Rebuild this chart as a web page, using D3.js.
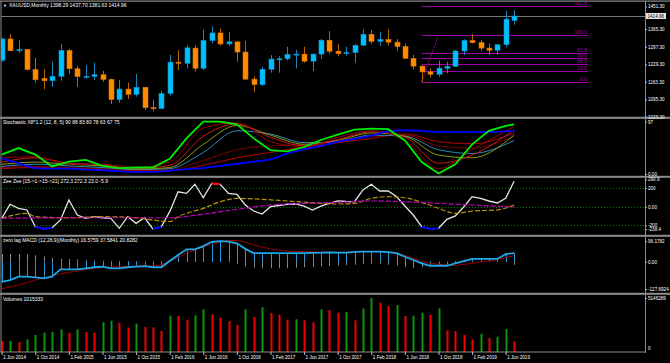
<!DOCTYPE html>
<html>
<head>
<meta charset="utf-8">
<script src="https://cdn.jsdelivr.net/npm/d3@7"></script>
<style>
  html, body { margin: 0; padding: 0; background: #000; }
  svg { display: block; }
  text { font-family: "Liberation Sans", Arial, sans-serif; font-size: 5px; fill: #fff; }
</style>
</head>
<body>
<div id="chart"></div>
<script>

  /* -----------------------
      DATA (monthly bars, Jun 2014 .. Jul 2019)
   -------------------------- */

  //-- TIME AXIS
  var timeTickBars = [0, 4, 8, 12, 16, 20, 24, 28, 32, 36, 40, 44, 48, 52, 56, 60];
  var timeLabels = ['1 Jun 2014', '1 Oct 2014', '1 Feb 2015', '1 Jun 2015', '1 Oct 2015', '1 Feb 2016',
    '1 Jun 2016', '1 Oct 2016', '1 Feb 2017', '1 Jun 2017', '1 Oct 2017', '1 Feb 2018',
    '1 Jun 2018', '1 Oct 2018', '1 Feb 2019', '1 Jun 2019'];

  //-- XAUUSD OHLC
  var opens = [1246,1327,1282,1287,1210,1175,1167,1184,1283,1213,1183,1184,1190,1172,1095,1135,1115,1142,1064,1061,
    1118,1238,1234,1292,1215,1321,1350,1308,1316,1277,1173,1152,1211,1250,1251,1268,1269,1242,1269,1322,
    1280,1271,1275,1303,1345,1318,1325,1315,1298,1253,1223,1201,1192,1215,1222,1281,1321,1313,1292,1284,
    1305,1398.29];
  var highs = [1332,1345,1322,1288,1255,1211,1240,1308,1290,1224,1227,1236,1205,1175,1170,1160,1193,1142,1093,1128,
    1266,1284,1304,1303,1362,1375,1367,1353,1318,1320,1184,1220,1265,1261,1297,1285,1297,1270,1327,1357,
    1306,1297,1307,1364,1361,1355,1364,1326,1309,1266,1225,1214,1244,1240,1284,1326,1346,1324,1310,1306,
    1435,1437.70];
  var lows = [1240,1281,1273,1206,1160,1134,1144,1167,1193,1144,1174,1170,1163,1078,1083,1097,1106,1055,1050,1061,
    1110,1208,1214,1202,1208,1310,1301,1301,1240,1171,1125,1146,1198,1198,1245,1214,1236,1204,1250,1271,
    1260,1264,1236,1302,1307,1301,1302,1282,1250,1211,1163,1180,1183,1196,1221,1265,1310,1281,1265,1266,
    1295,1381.63];
  var closes = [1327,1282,1287,1210,1171,1167,1184,1283,1213,1183,1184,1190,1172,1095,1135,1115,1142,1064,1061,1118,
    1238,1234,1293,1215,1321,1350,1308,1316,1277,1173,1152,1211,1250,1251,1268,1269,1242,1269,1322,1280,
    1271,1275,1303,1345,1318,1325,1315,1298,1253,1223,1201,1192,1215,1222,1281,1321,1313,1292,1284,1305,
    1403,1414.96];

  var priceLabels = [1451.30, 1365.30, 1297.30, 1229.30, 1163.30, 1095.30, 1029.30];
  var bidPrice = 1414.96;

  //-- FIBO (anchor bars and prices)
  var fibLevels = [0, 23.6, 38.2, 50.0, 61.8, 100.0, 161.8];
  var fibLowBar = 50, fibLowPrice = 1163.3;
  var fibHighBar = 52, fibHighPrice = 1342.0;
  var fibEndBar = 69.8;

  //-- STOCHASTIC X8
  var stochBars = [0,2,4,6,8,10,12,14,16,18,20,22,24,26,28,30,32,34,36,38,40,42,44,46,48,50,52,54,56,58,60,61];
  var stochGreen = [36,48,36,14,23,26,15,11,12,12,28,66,97,97,92,66,44,42,50,63,73,82,84,83,62,22,1,18,55,80,89,92];
  var stochBlue = [29,20,11,10,10,8,7,5,4,4,6,9,11,15,19,23,27,38,46,52,60,65,71,79,81,80,78,78,78,78,79,80];
  var stochThinBars = [0,4,8,12,16,20,24,28,32,36,40,44,48,52,56,61];
  var stochRed1 = [30,32,18,18,12,22,85,95,60,50,68,80,62,10,45,88];
  var stochRed2 = [22,30,20,17,10,16,70,93,68,52,64,78,68,20,35,82];
  var stochOlive = [18,22,18,15,9,12,55,90,72,55,62,76,70,35,30,72];
  var stochTeal = [14,18,15,12,8,10,40,80,74,58,60,72,70,45,38,62];
  var stochRed3 = [12,14,12,10,7,8,25,45,52,55,62,70,72,52,48,70];
  var stochRed4 = [10,12,10,9,6,6,16,30,40,50,58,66,74,60,56,76];
  var stochLabels = [97, 0];

  //-- ZEE ZEE
  var zeeWhite = [-124,26,-17,-35,-214,-238,-225,-142,72,-89,-124,-107,-118,-124,-231,-107,-178,-118,-238,-214,
    -53,160,143,240,96,250,240,143,133,18,-46,-78,0,13,26,29,7,-35,7,36,
    61,56,53,179,240,168,168,109,7,-89,-214,-238,-231,-135,-99,-3,107,88,61,40,
    90,272];
  var zeeYellowBars = [0,3,4,8,12,16,18,20,21,24,26,28,31,34,38,40,42,44,46,48,50,52,54,56,59,61];
  var zeeYellow = [-124,-71,-107,-118,-107,-118,-142,-160,-107,-18,53,89,79,61,36,29,36,89,107,96,47,-17,-71,-46,-35,18];
  var zeeMagentaBars = [0,8,16,20,24,28,32,36,40,44,48,52,56,61];
  var zeeMagenta = [-124,-118,-118,-118,-80,-28,18,36,47,61,53,36,18,-3];
  var zeeLevels = [200, 0, -200];
  var zeeLabels = [290.9, 200, 0, -200, -238.4];

  //-- ZERO LAG MACD
  var macdMain = [-94,-86,-70,-70,-73,-78,-70,-36,-36,-36,-31,-26,-23,-31,-31,-26,-23,-21,-26,-26,
    3,31,58,58,73,93,96,94,86,60,40,40,40,40,40,40,40,41,42,44,
    42,42,46,47,47,47,45,40,23,8,-8,-19,-19,-19,-8,3,13,13,13,13,
    35,40];
  var macdSignal = [-127,-118,-109,-97,-86,-76,-66,-57,-50,-43,-36,-31,-27,-25,-23,-22,-21,-20,-19,-15,
    2,20,40,55,70,83,93,99,100,92,78,68,60,54,50,48,47,46,45,44,
    44,44,45,46,47,46,45,40,30,15,2,-7,-12,-16,-18,-13,-7,-2,3,10,
    19,28];
  var macdOsma = [36,36,36,34,30,24,18,14,12,10,8,6,5,4,4,3,3,2,2,2,
    3,5,6,6,5,4,3,-3,-10,-22,-28,-30,-30,-30,-30,-28,-26,-24,-22,-20,
    -18,-16,-14,-12,-10,-10,-14,-18,-24,-28,-26,-22,-16,-8,4,10,12,12,10,8,
    6,-14];
  var macdLabels = [96.1782, 0, -127.6924];

  //-- VOLUMES
  var volumes = [1048000,1049000,953000,1210000,1620000,1840000,1906000,2163000,1840000,2163000,
    1906000,1840000,2830000,2983000,2792000,2316000,2697000,2383000,2354000,2001000,
    3459000,3431000,3078000,3498000,4069000,3593000,3269000,2954000,2602000,4069000,
    3336000,4260000,3717000,3555000,3078000,3116000,3021000,2830000,4069000,4003000,
    3745000,3812000,3021000,4165000,5146289,4698000,4384000,4479000,3431000,3459000,
    3745000,3555000,4165000,2068000,2001000,1620000,1210000,1744000,1334000,1458000,
    2192000,1015333];

  /* -----------------------
      LAYOUT
   -------------------------- */
  var W = 670, H = 363, plotLeft = 1, plotRight = 645;
  var panels = {
    main: { top: 2, bottom: 117 },
    stoch: { top: 119, bottom: 176 },
    zee: { top: 178, bottom: 235 },
    macd: { top: 237, bottom: 293 },
    vol: { top: 295, bottom: 352 }
  };

  var svg = d3.select('#chart').append('svg')
    .attr('width', W)
    .attr('height', H);

  svg.append('rect').attr('width', W).attr('height', H).attr('fill', '#000');

  var defs = svg.append('defs');
  Object.keys(panels).forEach(function(k) {
    defs.append('clipPath').attr('id', 'clip-' + k)
      .append('rect')
      .attr('x', plotLeft).attr('y', panels[k].top)
      .attr('width', plotRight - plotLeft).attr('height', panels[k].bottom - panels[k].top);
  });

  //-- SCALES
  var x = d3.scaleLinear().domain([0, 61]).range([1.7, 514.1]);
  var yMain = d3.scaleLinear().domain([1029.3, 1414.96]).range([116.7, 16]);
  var yStoch = d3.scaleLinear().domain([0, 100]).range([174, 120]);
  var yZee = d3.scaleLinear().domain([-200, 200]).range([225.4, 188]);
  var yMacd = d3.scaleLinear().domain([-127.6924, 0]).range([289, 261.7]);
  var yVol = d3.scaleLinear().domain([0, 5146289]).range([352, 298]);

  function pts(bars, vals) { return d3.zip(bars, vals); }
  function layer(name) {
    return svg.append('g').attr('clip-path', 'url(#clip-' + name + ')');
  }

  /* -----------------------
      MAIN CHART
   -------------------------- */
  var gMain = layer('main');
  var bars = d3.range(closes.length);

  //-- BID LINE
  gMain.append('line')
    .attr('x1', plotLeft).attr('x2', plotRight)
    .attr('y1', Math.round(yMain(bidPrice)) + 0.5).attr('y2', Math.round(yMain(bidPrice)) + 0.5)
    .attr('stroke', '#777').attr('stroke-width', 1);

  //-- FIBO
  var fibColor = '#a000a8';
  var fibPrice = function(l) { return fibLowPrice + (fibHighPrice - fibLowPrice) * l / 100; };
  var gFib = gMain.append('g');
  gFib.selectAll('line.lvl').data(fibLevels).enter().append('line')
    .attr('x1', x(fibLowBar)).attr('x2', x(fibEndBar))
    .attr('y1', function(d) { return Math.round(yMain(fibPrice(d))) + 0.5; })
    .attr('y2', function(d) { return Math.round(yMain(fibPrice(d))) + 0.5; })
    .attr('stroke', fibColor).attr('stroke-width', 1);
  gFib.append('line')
    .attr('x1', x(fibLowBar)).attr('y1', yMain(fibLowPrice))
    .attr('x2', x(fibHighBar)).attr('y2', yMain(fibHighPrice))
    .attr('stroke', fibColor).attr('stroke-width', 1).attr('stroke-dasharray', '2,1');
  gFib.selectAll('text').data(fibLevels).enter().append('text')
    .attr('x', x(fibEndBar) - 1)
    .attr('y', function(d) { return Math.round(yMain(fibPrice(d))) - 0.8; })
    .attr('text-anchor', 'end')
    .style('fill', fibColor)
    .text(function(d) { return d.toFixed(1); });

  //-- CANDLES
  var bodyW = 5;
  var candle = gMain.selectAll('g.candle').data(bars).enter().append('g');
  candle.append('line')
    .attr('x1', function(i) { return Math.round(x(i)) + 0.5; })
    .attr('x2', function(i) { return Math.round(x(i)) + 0.5; })
    .attr('y1', function(i) { return yMain(highs[i]); })
    .attr('y2', function(i) { return yMain(lows[i]); })
    .attr('stroke', function(i) { return closes[i] >= opens[i] ? '#1b86b8' : '#b86400'; })
    .attr('stroke-width', 1);
  candle.append('rect')
    .attr('x', function(i) { return Math.round(x(i)) + 0.5 - bodyW / 2; })
    .attr('y', function(i) { return yMain(Math.max(opens[i], closes[i])); })
    .attr('width', bodyW)
    .attr('height', function(i) { return Math.max(1, Math.abs(yMain(opens[i]) - yMain(closes[i]))); })
    .attr('fill', function(i) { return closes[i] >= opens[i] ? '#00bfff' : '#ff8c00'; })
    .attr('stroke', function(i) { return closes[i] >= opens[i] ? '#0d93c8' : '#d87400'; })
    .attr('stroke-width', 0.6);

  /* -----------------------
      STOCHASTIC
   -------------------------- */
  var gStoch = layer('stoch');
  var stochLine = d3.line()
    .x(function(d) { return x(d[0]); })
    .y(function(d) { return yStoch(d[1]); })
    .curve(d3.curveMonotoneX);

  [[stochRed4, '#c00000'], [stochRed3, '#7a0000'], [stochTeal, '#2a8cb8'],
   [stochOlive, '#8c9a10'], [stochRed2, '#d01818'], [stochRed1, '#900000']].forEach(function(s) {
    gStoch.append('path')
      .attr('d', stochLine(pts(stochThinBars, s[0])))
      .attr('fill', 'none').attr('stroke', s[1]).attr('stroke-width', 1);
  });
  gStoch.append('path')
    .attr('d', stochLine(pts(stochBars, stochBlue)))
    .attr('fill', 'none').attr('stroke', '#0000ff').attr('stroke-width', 1.8);
  gStoch.append('path')
    .attr('d', stochLine.curve(d3.curveLinear)(pts(stochBars, stochGreen)))
    .attr('fill', 'none').attr('stroke', '#00ee00').attr('stroke-width', 1.8);

  /* -----------------------
      ZEE ZEE
   -------------------------- */
  var gZee = layer('zee');
  gZee.selectAll('line.lvl').data(zeeLevels).enter().append('line')
    .attr('x1', plotLeft).attr('x2', plotRight)
    .attr('y1', function(d) { return Math.round(yZee(d)) + 0.5; })
    .attr('y2', function(d) { return Math.round(yZee(d)) + 0.5; })
    .attr('stroke', '#007a00').attr('stroke-width', 1).attr('stroke-dasharray', '1,2');

  var zeeLine = d3.line()
    .x(function(d) { return x(d[0]); })
    .y(function(d) { return yZee(d[1]); });

  gZee.append('path')
    .attr('d', zeeLine(pts(bars, zeeWhite)))
    .attr('fill', 'none').attr('stroke', '#e6e6e6').attr('stroke-width', 1.3);

  //--- OVERBOUGHT / OVERSOLD SEGMENTS
  d3.range(zeeWhite.length - 1).forEach(function(i) {
    var a = zeeWhite[i], b = zeeWhite[i + 1], col = null;
    if (a > 200 && b > 200) col = '#ff0000';
    if (a < -200 && b < -200) col = '#0000ff';
    if (col) {
      gZee.append('path')
        .attr('d', zeeLine([[i, a], [i + 1, b]]))
        .attr('fill', 'none').attr('stroke', col).attr('stroke-width', 2);
    }
  });

  gZee.append('path')
    .attr('d', zeeLine.curve(d3.curveMonotoneX)(pts(zeeYellowBars, zeeYellow)))
    .attr('fill', 'none').attr('stroke', '#b8900b').attr('stroke-width', 1.2).attr('stroke-dasharray', '5,2');
  gZee.append('path')
    .attr('d', zeeLine.curve(d3.curveMonotoneX)(pts(zeeMagentaBars, zeeMagenta)))
    .attr('fill', 'none').attr('stroke', '#c000c0').attr('stroke-width', 1.2).attr('stroke-dasharray', '5,2');

  /* -----------------------
      ZERO LAG MACD
   -------------------------- */
  var gMacd = layer('macd');
  gMacd.selectAll('line.osma').data(bars).enter().append('line')
    .attr('x1', function(i) { return Math.round(x(i)) + 0.5; })
    .attr('x2', function(i) { return Math.round(x(i)) + 0.5; })
    .attr('y1', yMacd(0))
    .attr('y2', function(i) { return yMacd(macdOsma[i]); })
    .attr('stroke', '#8a8a8a').attr('stroke-width', 1);
  gMacd.selectAll('line.hist').data(bars).enter().append('line')
    .attr('x1', function(i) { return Math.round(x(i)) + 0.5; })
    .attr('x2', function(i) { return Math.round(x(i)) + 0.5; })
    .attr('y1', yMacd(0))
    .attr('y2', function(i) { return yMacd(macdMain[i]); })
    .attr('stroke', '#1e9ad8').attr('stroke-width', 1);

  var macdLine = d3.line()
    .x(function(d) { return x(d[0]); })
    .y(function(d) { return yMacd(d[1]); });
  gMacd.append('path')
    .attr('d', macdLine(pts(bars, macdSignal)))
    .attr('fill', 'none').attr('stroke', '#9a0000').attr('stroke-width', 1);
  gMacd.append('path')
    .attr('d', macdLine(pts(bars, macdMain)))
    .attr('fill', 'none').attr('stroke', '#1ea8e8').attr('stroke-width', 1.8);

  /* -----------------------
      VOLUMES
   -------------------------- */
  var gVol = layer('vol');
  gVol.selectAll('rect').data(bars).enter().append('rect')
    .attr('x', function(i) { return Math.round(x(i)) - 0.5; })
    .attr('y', function(i) { return yVol(volumes[i]); })
    .attr('width', 2)
    .attr('height', function(i) { return yVol(0) - yVol(volumes[i]); })
    .attr('fill', function(i) { return i > 0 && volumes[i] > volumes[i - 1] ? '#0a960a' : '#f00000'; });

  /* -----------------------
      FRAME, SEPARATORS
   -------------------------- */
  var frameColor = '#8c8c8c';
  svg.append('rect').attr('x', 0).attr('y', 0.5).attr('width', W).attr('height', 1.2).attr('fill', frameColor);
  svg.append('rect').attr('x', 0.5).attr('y', 1).attr('width', 1).attr('height', 351).attr('fill', frameColor);
  svg.append('rect').attr('x', plotRight).attr('y', 1).attr('width', 1).attr('height', 352).attr('fill', frameColor);
  ['stoch', 'zee', 'macd', 'vol'].forEach(function(k) {
    svg.append('rect').attr('x', 0).attr('y', panels[k].top - 2.2)
      .attr('width', W).attr('height', 2).attr('fill', frameColor);
  });
  svg.append('rect').attr('x', 0).attr('y', 351.5).attr('width', plotRight + 1).attr('height', 1).attr('fill', frameColor);

  /* -----------------------
      AXES
   -------------------------- */
  function rightAxis(scale, vals, fmt) {
    var g = svg.append('g')
      .attr('transform', 'translate(' + plotRight + ',0)')
      .call(d3.axisRight(scale).tickValues(vals).tickSize(2).tickPadding(1).tickFormat(fmt));
    g.select('.domain').remove();
    g.selectAll('.tick line').attr('stroke', '#bbb');
    g.selectAll('text').style('font-size', '4.6px').style('fill', '#fff').attr('font-family', null);
    return g;
  }

  rightAxis(yMain, priceLabels, function(d) { return d.toFixed(2); });
  rightAxis(yStoch, stochLabels, function(d) { return d === 0 ? '0.00' : String(d); });
  rightAxis(yZee, zeeLabels, function(d) { return d === 0 ? '0.00' : String(d); });
  rightAxis(yMacd, macdLabels, function(d) { return d === 0 ? '0.00' : String(d); });
  rightAxis(yVol, [5146289], function(d) { return String(d); });
  svg.append('text').attr('x', plotRight + 3).attr('y', yVol(0) - 3).attr('dy', '0.32em')
    .style('font-size', '4.6px').text('0');

  //--- BID LABEL
  var by = yMain(bidPrice);
  svg.append('rect').attr('x', plotRight + 1).attr('y', by - 3).attr('width', 20).attr('height', 6)
    .attr('fill', '#e8e8e8');
  svg.append('text').attr('x', plotRight + 2.5).attr('y', by).attr('dy', '0.35em')
    .style('font-size', '4.6px').style('fill', '#000').text(bidPrice.toFixed(2));

  //--- TIME AXIS
  var gx = svg.append('g')
    .attr('transform', 'translate(0,352)')
    .call(d3.axisBottom(x).tickValues(timeTickBars).tickSize(3).tickPadding(1)
      .tickFormat(function(d, i) { return timeLabels[i]; }));
  gx.select('.domain').remove();
  gx.selectAll('.tick line').attr('stroke', '#bbb');
  gx.selectAll('text').attr('text-anchor', 'start').attr('x', 1).attr('y', 3.5)
    .style('font-size', '4.6px').style('fill', '#fff').attr('font-family', null);

  /* -----------------------
      PANEL TITLES
   -------------------------- */
  svg.append('text').attr('x', 3).attr('y', 6.8).style('font-size', '4px').text('\u25BC');
  svg.append('text').attr('x', 9).attr('y', 7).text('XAUUSD,Monthly  1398.29 1437.70 1381.63 1414.96');
  svg.append('text').attr('x', 3).attr('y', 124).text('Stochastic X8*1.2 (12, 8, 5) 90 88 83 80 78 63 67 75');
  svg.append('text').attr('x', 3).attr('y', 183).text('Zee Zee [15->1->15->21] 272.3 272.3 23.0 -5.9');
  svg.append('text').attr('x', 3).attr('y', 242.3).text('zero lag MACD (12,26,9)(Monthly) 16.5759 37.5841 20.8282');
  svg.append('text').attr('x', 3).attr('y', 301).text('Volumes 1015333');

</script>
</body>
</html>
